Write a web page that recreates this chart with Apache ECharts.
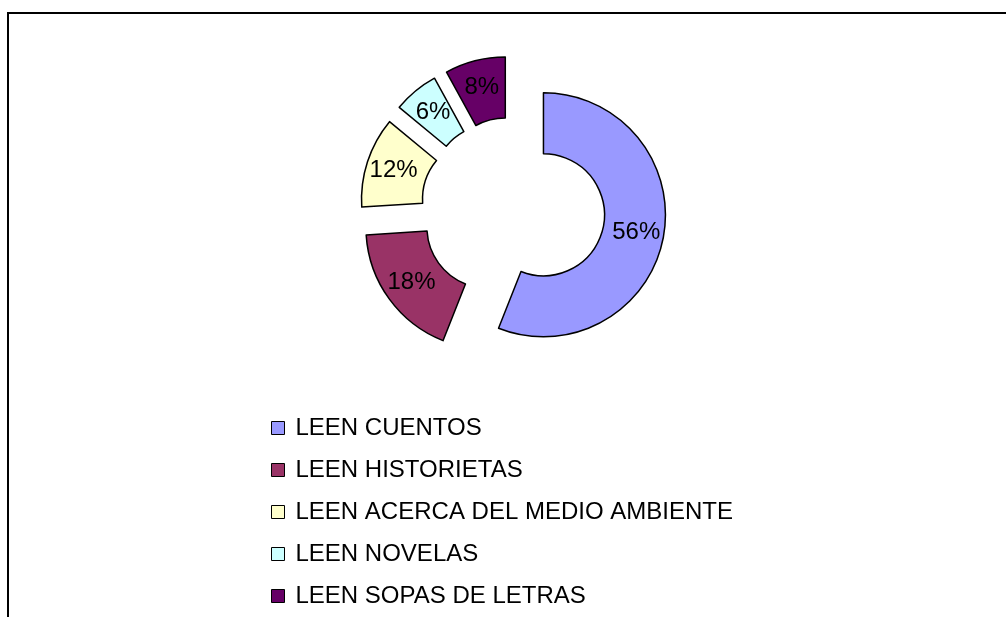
<!DOCTYPE html>
<html>
<head>
<meta charset="utf-8">
<script src="https://cdn.jsdelivr.net/npm/echarts@6/dist/echarts.min.js"></script>
<style>
  html, body { margin: 0; padding: 0; background: #fff; }
  #chart { width: 1006px; height: 617px; }
</style>
</head>
<body>
<div id="chart"></div>
<script>
const categories = ['LEEN CUENTOS', 'LEEN HISTORIETAS', 'LEEN ACERCA DEL MEDIO AMBIENTE', 'LEEN NOVELAS', 'LEEN SOPAS DE LETRAS']
const values = [56, 18, 12, 6, 8]
const colors = ['#9999FF', '#993366', '#FFFFCC', '#CCFFFF', '#660066']

const chart = echarts.init(document.getElementById('chart'), null, { renderer: 'canvas' })

const option = {
  animation: false,
  color: colors,
  graphic: [{
    type: 'polyline',
    shape: { points: [[8, 617], [8, 13], [1006, 13]] },
    style: { stroke: '#000', lineWidth: 2, fill: null }
  }],
  legend: {
    orient: 'vertical',
    left: 271,
    top: 413,
    height: 260,
    padding: 0,
    itemWidth: 13,
    itemHeight: 13,
    itemGap: 12,
    icon: 'rect',
    selectedMode: false,
    itemStyle: { borderColor: '#000', borderWidth: 1 },
    textStyle: {
      color: '#000',
      fontFamily: 'Arial, "Liberation Sans", sans-serif',
      fontSize: 24,
      lineHeight: 30,
      padding: [0, 0, 0, 6]
    },
    data: categories
  },
  series: [{
    type: 'pie',
    center: [513, 209],
    radius: [61, 122],
    startAngle: 90,
    clockwise: true,
    selectedMode: 'multiple',
    selectedOffset: 31,
    avoidLabelOverlap: false,
    emphasis: { disabled: true },
    itemStyle: { borderColor: '#000', borderWidth: 1.5 },
    label: {
      position: 'inside',
      formatter: '{c}%',
      color: '#000',
      fontFamily: 'Arial, "Liberation Sans", sans-serif',
      fontSize: 24
    },
    labelLine: { show: false },
    data: categories.map((name, i) => ({ name: name, value: values[i], selected: true }))
  }]
}

chart.setOption(option)
</script>
</body>
</html>
